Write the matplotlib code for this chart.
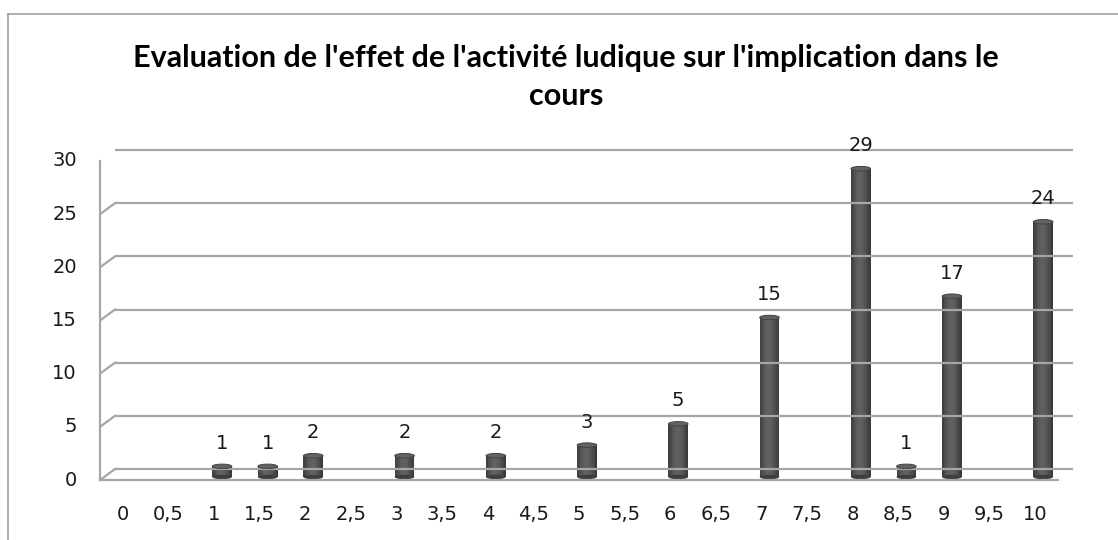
import matplotlib
matplotlib.use("Agg")
import matplotlib.pyplot as plt
import matplotlib.transforms as mtransforms
from matplotlib.patches import Ellipse, Rectangle
from matplotlib.lines import Line2D

categories = ["0", "0,5", "1", "1,5", "2", "2,5", "3", "3,5", "4", "4,5", "5",
              "5,5", "6", "6,5", "7", "7,5", "8", "8,5", "9", "9,5", "10"]
values = [0, 0, 1, 1, 2, 0, 2, 0, 2, 0, 3, 0, 5, 0, 15, 0, 29, 1, 17, 0, 24]
yticks = [0, 5, 10, 15, 20, 25, 30]
title = "Evaluation de l'effet de l'activité ludique sur l'implication dans le\ncours"

W, H = 1118, 540
fig = plt.figure(figsize=(W / 100, H / 100), dpi=100)
fig.patch.set_facecolor("white")

# outer chart border
fig.add_artist(Line2D([8 / W, 8 / W], [0, 1 - 14 / H], color="#a0a0a0", lw=1.2))
fig.add_artist(Line2D([8 / W, 1], [1 - 14 / H, 1 - 14 / H], color="#a0a0a0", lw=1.2))

x0, x1 = 100, 1058
yb, yt = 480, 161
ax = fig.add_axes([x0 / W, 1 - yb / H, (x1 - x0) / W, (yb - yt) / H])
n = len(categories)
ax.set_xlim(-0.5, n - 0.5)
ax.set_ylim(0, 30)
ax.axis("off")

grid_c = "#a6a6a6"
DX, DY = 15, 11
back = mtransforms.offset_copy(ax.transData, fig=fig, x=DX, y=DY, units="dots")
mid = mtransforms.offset_copy(ax.transData, fig=fig, x=8, y=3, units="dots")

def ypix(v):
    return H - (yb - (yb - yt) * v / 30)

# back gridlines and diagonals from front axis
for v in yticks:
    ax.plot([-0.5, n - 0.5], [v, v], color=grid_c, lw=1.6, transform=back,
            solid_capstyle="butt", clip_on=False)
    ax.add_line(Line2D([x0, x0 + DX], [ypix(v), ypix(v) + DY],
                       transform=None, color=grid_c, lw=1.6))
# floor front edge and right diagonal
ax.plot([-0.5, n - 0.5], [0, 0], color=grid_c, lw=1.6, clip_on=False)
ax.add_line(Line2D([x1, x1 + DX], [H - yb, H - yb + DY], transform=None, color=grid_c, lw=1.6))
# front y axis
ax.plot([-0.5, -0.5], [0, 30], color=grid_c, lw=1.6, clip_on=False)

# ticks
for i in range(n + 1):
    xp = x0 + (x1 - x0) * i / n
    ax.add_line(Line2D([xp, xp], [H - yb, H - yb - 9], transform=None, color=grid_c, lw=1.4))
for v in yticks:
    ax.add_line(Line2D([x0 - 8, x0], [ypix(v), ypix(v)], transform=None, color=grid_c, lw=1.4))

nfont = "DejaVu Sans"
fs = 14
for i, c in enumerate(categories):
    ax.text(i, 0, c, transform=mtransforms.offset_copy(ax.transData, fig=fig, x=0, y=-34, units="dots"),
            ha="center", va="center", fontsize=fs, family=nfont, color="#1a1a1a")
for v in yticks:
    ax.text(-0.5, v, str(v), transform=mtransforms.offset_copy(ax.transData, fig=fig, x=-23, y=0, units="dots"),
            ha="right", va="center", fontsize=fs, family=nfont, color="#1a1a1a")

# cylinders
bw = 0.43
px_per_unit = (yb - yt) / 30
ell_h = 4.5 / px_per_unit
shades = ["#404040", "#4a4a4a", "#535353", "#5a5a5a", "#5f5f5f", "#616161",
          "#5f5f5f", "#5a5a5a", "#545454", "#4c4c4c", "#444444", "#3b3b3b"]
ns = len(shades)
for i, v in enumerate(values):
    if v <= 0:
        continue
    for k, col in enumerate(shades):
        left = i - bw / 2 + bw * k / ns
        ax.add_patch(Rectangle((left, 0), bw / ns * 1.05, v, facecolor=col,
                               edgecolor="none", transform=mid, clip_on=False))
    ax.add_patch(Ellipse((i, 0), bw, ell_h, facecolor="#3e3e3e", edgecolor="none",
                         transform=mid, clip_on=False))
    ax.add_patch(Ellipse((i, v), bw, ell_h, facecolor="#626262", edgecolor="#444444",
                         lw=0.7, transform=mid, clip_on=False, zorder=3))
    ax.text(i, v, str(v), transform=mtransforms.offset_copy(ax.transData, fig=fig, x=8, y=26, units="dots"),
            ha="center", va="center", fontsize=fs, family=nfont, color="#1a1a1a", zorder=4)

fig.text(0.506, 1 - 77 / H, title, ha="center", va="center", fontsize=22,
         fontweight="bold", family="Lato", color="black", linespacing=1.4)

fig.savefig("out.png", dpi=100, facecolor="white")
